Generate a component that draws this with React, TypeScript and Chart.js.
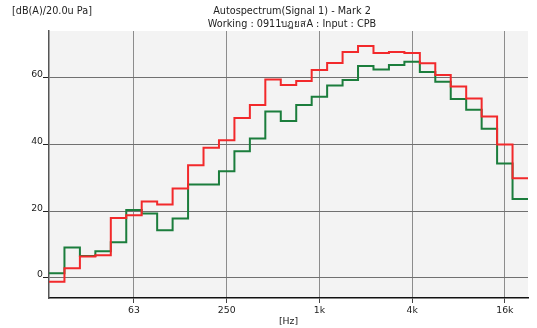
import React, { useEffect, useRef } from "react";
import { Chart, registerables } from "chart.js";

Chart.register(...registerables);

const bandCenters = [20, 25, 31.5, 40, 50, 63, 80, 100, 125, 160, 200, 250, 315, 400, 500, 630, 800, 1000, 1250, 1600, 2000, 2500, 3150, 4000, 5000, 6300, 8000, 10000, 12500, 16000, 20000];
const redValues = [-1.1, 2.9, 6.4, 6.8, 18.0, 18.8, 22.9, 22.0, 26.8, 33.8, 39.0, 41.3, 47.9, 51.8, 59.5, 57.8, 59.0, 62.3, 64.4, 67.7, 69.5, 67.4, 67.7, 67.4, 64.3, 60.8, 57.4, 53.8, 48.4, 40.0, 29.9];
const greenValues = [1.4, 9.1, 6.6, 8.0, 10.7, 20.4, 19.3, 14.3, 17.8, 28.0, 28.0, 32.0, 38.0, 41.8, 49.9, 47.0, 51.8, 54.3, 57.7, 59.3, 63.5, 62.5, 63.8, 64.8, 61.7, 58.8, 53.6, 50.4, 44.7, 34.3, 23.7];
const xTickValues = [63, 250, 1000, 4000, 16000];
const xTickLabels = ["63", "250", "1k", "4k", "16k"];
const yTickValues = [0, 20, 40, 60];

const titleLine1 = "Autospectrum(Signal 1) - Mark 2";
const titleLine2 = "Working : 0911บฎยสA : Input : CPB";
const yUnit = "[dB(A)/20.0u Pa]";
const xUnit = "[Hz]";

const FONT = "'DejaVu Sans', Verdana, sans-serif";

// exact base-2 third-octave frequency for a nominal value
const bandIndex = (f: number) => Math.round(3 * Math.log2(f / 1000));
const exactAt = (idx: number) => 1000 * Math.pow(2, idx / 3);

function stepPoints(values: number[]) {
  const pts: { x: number; y: number }[] = [];
  bandCenters.forEach((c, i) => {
    pts.push({ x: exactAt(bandIndex(c) - 0.5), y: values[i] });
  });
  const last = bandCenters[bandCenters.length - 1];
  pts.push({ x: exactAt(bandIndex(last) + 0.5), y: values[values.length - 1] });
  return pts;
}

export default function App() {
  const ref = useRef<HTMLCanvasElement | null>(null);
  useEffect(() => {
    if (!ref.current) return;
    const bgPlugin = {
      id: "bgPlugin",
      beforeDraw(chart: any) {
        const { ctx, chartArea } = chart;
        ctx.save();
        ctx.fillStyle = "#f3f3f3";
        ctx.fillRect(chartArea.left, chartArea.top, chartArea.right - chartArea.left, chartArea.bottom - chartArea.top);
        ctx.restore();
      },
      afterDraw(chart: any) {
        const { ctx, chartArea } = chart;
        ctx.save();
        ctx.fillStyle = "#222";
        ctx.font = `9.7px ${FONT}`;
        ctx.textBaseline = "middle";
        ctx.textAlign = "left";
        ctx.fillText(yUnit, 12, 11);
        ctx.textAlign = "center";
        ctx.fillText(titleLine1, 292, 11);
        ctx.fillText(titleLine2, 292, 24);
        ctx.font = `9.3px ${FONT}`;
        ctx.fillText(xUnit, (chartArea.left + chartArea.right) / 2, 322);
        ctx.restore();
      },
    };
    const chart = new Chart(ref.current, {
      type: "line",
      data: {
        datasets: [
          {
            data: stepPoints(redValues),
            borderColor: "#f2292b",
            borderWidth: 2,
            stepped: true,
            pointRadius: 0,
            fill: false,
          },
          {
            data: stepPoints(greenValues),
            borderColor: "#1b7d3c",
            borderWidth: 2,
            stepped: true,
            pointRadius: 0,
            fill: false,
          },
        ],
      },
      plugins: [bgPlugin],
      options: {
        animation: false,
        responsive: false,
        parsing: false as any,
        layout: { padding: { top: 31, right: 9, left: 0, bottom: 0 } },
        plugins: { legend: { display: false }, tooltip: { enabled: false }, title: { display: false } },
        scales: {
          x: {
            type: "logarithmic",
            min: exactAt(bandIndex(bandCenters[0]) - 0.5),
            max: exactAt(bandIndex(bandCenters[bandCenters.length - 1]) + 0.5),
            afterBuildTicks(scale: any) {
              scale.ticks = xTickValues.map((v) => ({ value: exactAt(bandIndex(v)) }));
            },
            afterFit(scale: any) {
              scale.height = 30;
            },
            ticks: {
              autoSkip: false,
              maxRotation: 0,
              padding: 2,
              color: "#222",
              font: { family: FONT, size: 9.3 },
              callback: (v: any) => {
                const i = xTickValues.findIndex((t) => Math.abs(exactAt(bandIndex(t)) - v) < 1e-6 * v);
                return i >= 0 ? xTickLabels[i] : "";
              },
            },
            grid: { color: "#8c8c8c", lineWidth: 1, tickLength: 5, tickColor: "#444" },
            border: { color: "#111", width: 1.5 },
          },
          y: {
            type: "linear",
            min: -6,
            max: 74,
            afterBuildTicks(scale: any) {
              scale.ticks = yTickValues.map((v) => ({ value: v }));
            },
            afterFit(scale: any) {
              scale.width = 49;
            },
            ticks: {
              padding: 0,
              labelOffset: -3,
              color: "#222",
              font: { family: FONT, size: 9.3 },
            },
            grid: { color: "#707070", lineWidth: 1, tickLength: 6, tickColor: "#222" },
            border: { color: "#555", width: 1.5 },
          },
        },
      },
    });
    return () => chart.destroy();
  }, []);
  return (
    <div style={{ position: "fixed", left: 0, top: 0, width: 537, height: 328, background: "#fff" }}>
      <canvas ref={ref} width={537} height={328} style={{ display: "block" }} />
    </div>
  );
}
